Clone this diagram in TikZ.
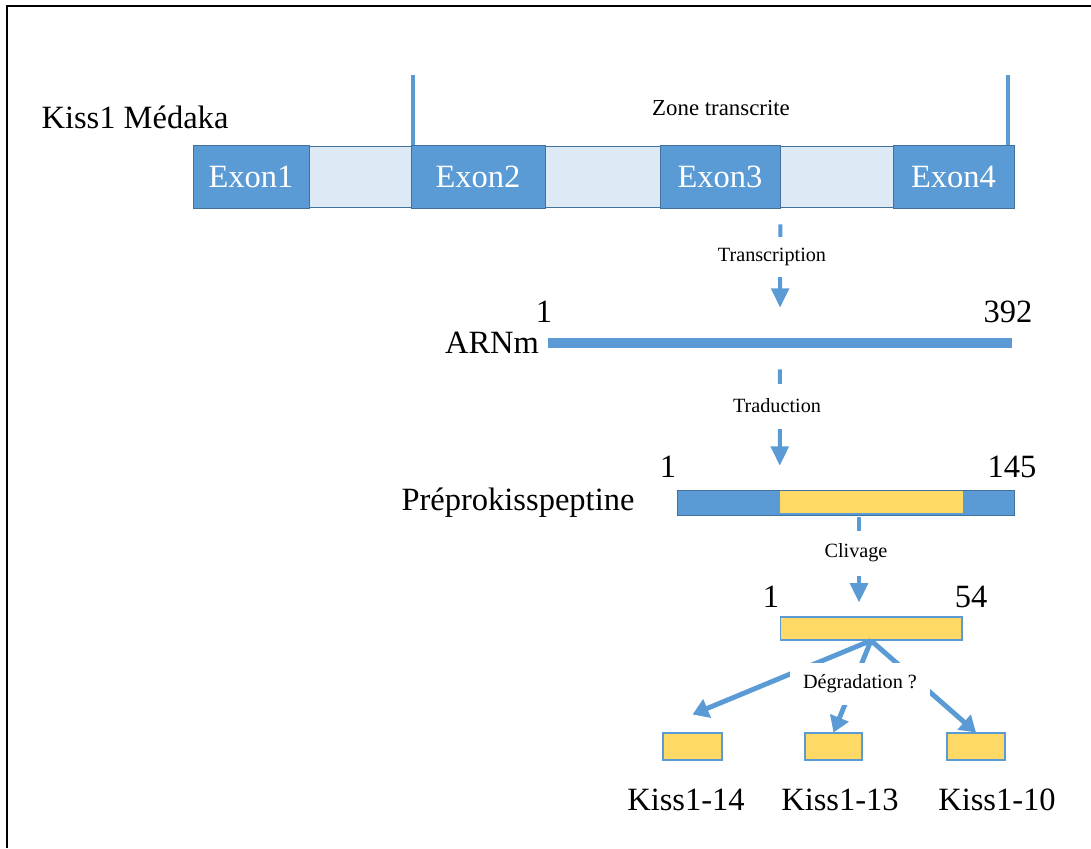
\documentclass[tikz,border=0pt]{standalone}
\usepackage{fontspec}
\setmainfont{Liberation Serif}
\usetikzlibrary{arrows.meta}
\definecolor{exonblue}{RGB}{91,155,213}
\definecolor{exonedge}{RGB}{65,113,156}
\definecolor{intronblue}{RGB}{221,233,245}
\definecolor{kissyellow}{RGB}{255,217,102}
\newcommand{\bigtxt}{\rmfamily\fontsize{18.5}{20}\selectfont}
\newcommand{\smalltxt}{\rmfamily\fontsize{11.5}{13}\selectfont}
\tikzset{
  exon/.style={draw=exonedge, fill=exonblue, text=white, minimum height=1.26cm, inner sep=0pt, font=\bigtxt},
  intron/.style={draw=exonedge, fill=intronblue, minimum height=1.22cm, inner sep=0pt},
  peptide/.style={draw=exonblue, fill=kissyellow, inner sep=0pt, line width=0.6pt},
  bigtext/.style={font=\bigtxt, inner sep=0pt},
  steptext/.style={font=\smalltxt, fill=white, inner sep=0pt},
  flow/.style={draw=exonblue, line width=2.3pt, -{Triangle[length=11pt,width=10pt]}},
  branch/.style={draw=exonblue, line width=2.8pt, -{Triangle[length=9pt,width=11pt]}}
}
\begin{document}
\begin{tikzpicture}[x=0.02cm, y=-0.02cm]
  \useasboundingbox (0,0) rectangle (1091,848);
  \draw[line width=1.7pt] (7,848) -- (7,6) -- (1091,6);

  \node[bigtext] (kiss) at (135,117) {Kiss1 Médaka};
  \node[font=\rmfamily\fontsize{13}{15}\selectfont] (zone) at (721,108) {Zone transcrite};

  \node[exon, minimum width=2.32cm] (e1) at (251,176.5) {Exon1};
  \node[intron, minimum width=2.04cm] (i1) at (360,177) {};
  \node[exon, minimum width=2.68cm] (e2) at (478,176.5) {Exon2};
  \node[intron, minimum width=2.30cm] (i2) at (602.5,177) {};
  \node[exon, minimum width=2.40cm] (e3) at (720,176.5) {Exon3};
  \node[intron, minimum width=2.26cm] (i3) at (836.5,177) {};
  \node[exon, minimum width=2.42cm] (e4) at (953.5,176.5) {Exon4};

  \draw[exonblue, line width=2.3pt] ([xshift=0.04cm]e2.north west) -- +(0,-70);
  \draw[exonblue, line width=2.3pt] ([xshift=-0.12cm]e4.north east) -- +(0,-70);

  \node[fill=exonblue, minimum width=9.28cm, minimum height=0.2cm, inner sep=0pt] (arn) at (780,343) {};
  \node[bigtext] (arnlab) at (492,343) {ARNm};
  \node[bigtext] (arn1) at (544,312) {1};
  \node[bigtext] (arn392) at (1008,312) {392};

  \node[fill=exonblue, draw=exonedge, minimum width=6.74cm, minimum height=0.5cm, inner sep=0pt] (pre) at (845.5,502.5) {};
  \node[fill=kissyellow, minimum width=3.66cm, minimum height=0.44cm, inner sep=0pt] (sig) at (871.5,502) {};
  \node[bigtext] (prelab) at (518,503) {Préprokisspeptine};
  \node[bigtext] (pre1) at (668,467) {1};
  \node[bigtext] (pre145) at (1012,467) {145};

  \node[peptide, minimum width=3.64cm, minimum height=0.46cm] (kp) at (871,628.5) {};
  \node[bigtext] (kp1) at (771,597) {1};
  \node[bigtext] (kp54) at (971,597) {54};

  \node[peptide, minimum width=1.18cm, minimum height=0.54cm] (k14) at (692.5,746.5) {};
  \node[peptide, minimum width=1.14cm, minimum height=0.54cm] (k13) at (833.5,746.5) {};
  \node[peptide, minimum width=1.16cm, minimum height=0.54cm] (k10) at (976,746.5) {};
  \node[bigtext] (k14lab) at (686,800) {Kiss1-14};
  \node[bigtext] (k13lab) at (840,800) {Kiss1-13};
  \node[bigtext] (k10lab) at (997,800) {Kiss1-10};

  \draw[flow, shorten <=0.32cm, shorten >=0.6cm] (e3.south east) -- (arn.north);
  \draw[flow, shorten <=0.42cm, shorten >=0.5cm] (arn.south) -- (sig.north west);
  \draw[flow, shorten <=0.04cm, shorten >=0.28cm] ([xshift=-0.24cm]kp.north |- pre.south) -- ([xshift=-0.24cm]kp.north);

  \draw[branch] (kp.south) -- ([yshift=0.36cm]k14.north);
  \draw[branch] (kp.south) -- (k13.north);
  \draw[branch] (kp.south) -- (k10.north);

  \node[steptext, minimum height=0.8cm] (trans) at (772,257) {Transcription};
  \node[steptext, minimum height=0.9cm] (trad) at (777,406) {Traduction};
  \node[steptext, minimum height=0.9cm] (cliv) at (856,553) {Clivage};
  \node[steptext, minimum width=2.8cm, minimum height=0.84cm] (degr) at (860,684) {Dégradation ?};
\end{tikzpicture}
\end{document}
